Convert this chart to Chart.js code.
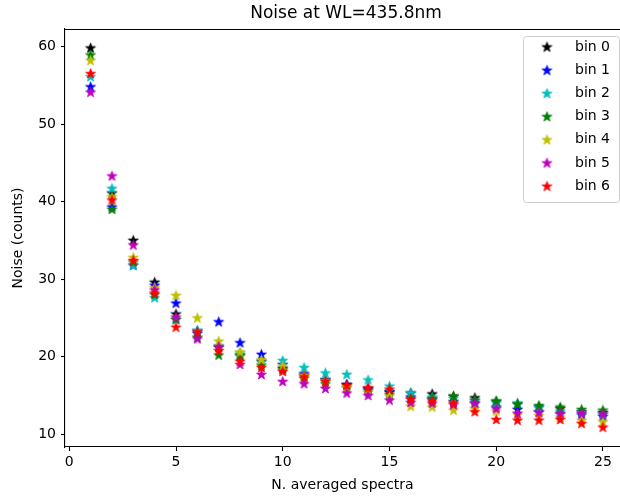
<!DOCTYPE html>
<html>
<head>
<meta charset="utf-8">
<script src="https://cdn.jsdelivr.net/npm/chart.js@4"></script>
<style>
  html, body { margin: 0; padding: 0; background: #fff; }
  #wrap { width: 620px; height: 499px; position: relative; }
</style>
</head>
<body>
<div id="wrap"><canvas id="noiseChart"></canvas></div>
<script>
// data
var nSpectra = [1,2,3,4,5,6,7,8,9,10,11,12,13,14,15,16,17,18,19,20,21,22,23,24,25];
var bin0 = [59.8, 41.1, 35.0, 29.6, 25.5, 23.3, 21.2, 20.2, 19.4, 18.5, 17.6, 17.0, 16.4, 15.8, 15.4, 15.3, 15.2, 14.9, 14.7, 14.2, 13.9, 13.5, 13.3, 12.9, 12.8];
var bin1 = [54.8, 39.3, 31.8, 29.2, 26.9, 23.0, 24.5, 21.8, 20.3, 19.0, 17.8, 17.0, 16.4, 15.9, 15.5, 14.8, 14.5, 14.2, 14.0, 13.5, 13.2, 12.9, 12.6, 12.5, 12.3];
var bin2 = [56.1, 41.7, 31.8, 27.6, 24.8, 23.4, 21.4, 20.5, 19.3, 19.5, 18.6, 17.9, 17.7, 17.0, 16.2, 15.3, 14.8, 14.6, 14.3, 14.0, 14.0, 13.4, 13.0, 12.8, 12.6];
var bin3 = [58.9, 39.0, 32.2, 28.0, 24.8, 22.5, 20.2, 20.1, 18.9, 18.3, 17.2, 16.5, 16.0, 15.6, 15.1, 14.6, 14.6, 14.9, 14.4, 14.3, 13.9, 13.7, 13.5, 13.2, 13.1];
var bin4 = [58.2, 40.6, 32.8, 28.9, 27.9, 25.0, 22.0, 20.6, 19.6, 18.8, 17.6, 16.9, 16.1, 15.4, 14.9, 13.6, 13.5, 13.1, 13.3, 13.0, 12.5, 12.4, 12.2, 11.8, 11.6];
var bin5 = [54.1, 43.3, 34.4, 28.6, 25.1, 22.3, 21.3, 19.0, 17.7, 16.8, 16.5, 15.9, 15.3, 15.0, 14.4, 14.1, 14.0, 13.8, 14.0, 13.3, 12.7, 12.8, 12.7, 12.7, 12.6];
var bin6 = [56.5, 40.2, 32.4, 28.2, 23.8, 23.2, 20.8, 19.4, 18.6, 18.1, 17.4, 16.8, 16.3, 16.0, 15.8, 14.5, 14.3, 14.0, 12.9, 11.9, 11.8, 11.8, 11.9, 11.4, 10.9];

var binLabels = ["bin 0", "bin 1", "bin 2", "bin 3", "bin 4", "bin 5", "bin 6"];
var binColors = ["#000000", "#0000ff", "#00bfbf", "#008000", "#bfbf00", "#bf00bf", "#ff0000"];
var xTicks = [0, 5, 10, 15, 20, 25];
var yTicks = [10, 20, 30, 40, 50, 60];
var titleText = "Noise at WL=435.8nm";

var FONT = "'DejaVu Sans', sans-serif";

// filled five point star like matplotlib's '*' marker
function makeStar(color) {
    var c = document.createElement("canvas");
    c.width = 13; c.height = 13;
    var ctx = c.getContext("2d");
    var cx = 6.5, cy = 6.8, ro = 5.2, ri = 2.1;
    ctx.beginPath();
    for (var k = 0; k < 10; k++) {
        var r = (k % 2 === 0) ? ro : ri;
        var a = -Math.PI / 2 + k * Math.PI / 5;
        var px = cx + r * Math.cos(a), py = cy + r * Math.sin(a);
        if (k === 0) ctx.moveTo(px, py); else ctx.lineTo(px, py);
    }
    ctx.closePath();
    ctx.fillStyle = color;
    ctx.fill();
    ctx.strokeStyle = color;
    ctx.lineWidth = 0.8;
    ctx.stroke();
    return c;
}

var starImgs = binColors.map(makeStar);
var allBins = [bin0, bin1, bin2, bin3, bin4, bin5, bin6];

var datasets = allBins.map(function (vals, i) {
    return {
        label: binLabels[i],
        data: nSpectra.map(function (n, j) { return { x: n, y: vals[j] }; }),
        pointStyle: starImgs[i],
        backgroundColor: binColors[i],
        borderColor: binColors[i],
        showLine: false,
        order: 6 - i
    };
});

// top spine, title and the legend box drawn in the plot
var framePlugin = {
    id: "frame",
    afterDatasetsDraw: function (chart) {
        var ctx = chart.ctx, a = chart.chartArea;
        ctx.save();
        ctx.strokeStyle = "#000";
        ctx.lineWidth = 1.1;
        ctx.beginPath();
        ctx.moveTo(a.left, a.top + 0.5);
        ctx.lineTo(a.right, a.top + 0.5);
        ctx.stroke();
        ctx.restore();
    },
    afterDraw: function (chart) {
        var ctx = chart.ctx;
        ctx.save();
        // matplotlib centres the title on the (cropped) axes box
        ctx.font = "17px " + FONT;
        ctx.fillStyle = "#000";
        ctx.textAlign = "center";
        ctx.textBaseline = "middle";
        ctx.fillText(titleText, 346, 14);

        var bx = 523.5, by = 36.5, bw = 96, bh = 166, rr = 3;
        ctx.beginPath();
        ctx.moveTo(bx + rr, by);
        ctx.lineTo(bx + bw - rr, by);
        ctx.quadraticCurveTo(bx + bw, by, bx + bw, by + rr);
        ctx.lineTo(bx + bw, by + bh - rr);
        ctx.quadraticCurveTo(bx + bw, by + bh, bx + bw - rr, by + bh);
        ctx.lineTo(bx + rr, by + bh);
        ctx.quadraticCurveTo(bx, by + bh, bx, by + bh - rr);
        ctx.lineTo(bx, by + rr);
        ctx.quadraticCurveTo(bx, by, bx + rr, by);
        ctx.closePath();
        ctx.fillStyle = "rgba(255,255,255,0.8)";
        ctx.fill();
        ctx.strokeStyle = "#cccccc";
        ctx.lineWidth = 1;
        ctx.stroke();
        ctx.font = "14px " + FONT;
        ctx.textAlign = "left";
        ctx.textBaseline = "middle";
        ctx.fillStyle = "#000";
        chart.data.datasets.forEach(function (ds, i) {
            var yy = 47 + i * 23.2;
            ctx.drawImage(ds.pointStyle, 547 - 6.5, yy - 6.5);
            ctx.fillText(ds.label, 575, yy);
        });
        ctx.restore();
    }
};

var noiseCanvas = document.getElementById("noiseChart");
var NoiseChart = new Chart(noiseCanvas, {
    type: 'scatter',
    data: { datasets: datasets },
    plugins: [framePlugin],
    options: {
        responsive: true,
        maintainAspectRatio: false,
        animation: false,
        layout: { autoPadding: false, padding: { top: 29, right: 0, left: 0, bottom: 0 } },
        plugins: {
            legend: { display: false },
            tooltip: { enabled: false },
            title: { display: false }
        },
        scales: {
            x: {
                type: 'linear',
                min: -0.2,
                max: 25.8,
                afterBuildTicks: function (s) { s.ticks = xTicks.map(function (v) { return { value: v }; }); },
                afterFit: function (s) { s.height = 52; s.paddingLeft = 0; s.paddingRight = 0; },
                grid: { drawOnChartArea: false, color: "#000", tickLength: 4, tickWidth: 1.1 },
                border: { display: true, color: "#000", width: 1.1 },
                ticks: { color: "#000", font: { family: FONT, size: 14 }, padding: 3, maxRotation: 0 },
                title: {
                    display: true,
                    text: "N. averaged spectra",
                    color: "#000",
                    font: { family: FONT, size: 14 },
                    padding: { top: 0, bottom: 5 }
                }
            },
            y: {
                type: 'linear',
                min: 8.35,
                max: 62.25,
                afterBuildTicks: function (s) { s.ticks = yTicks.map(function (v) { return { value: v }; }); },
                afterFit: function (s) { s.width = 65; s.paddingTop = 0; s.paddingBottom = 0; },
                grid: { drawOnChartArea: false, color: "#000", tickLength: 4, tickWidth: 1.1 },
                border: { display: true, color: "#000", width: 1.1 },
                ticks: { color: "#000", font: { family: FONT, size: 14 }, padding: 5 },
                title: {
                    display: true,
                    text: "Noise (counts)",
                    color: "#000",
                    font: { family: FONT, size: 14 },
                    padding: { top: 10, bottom: 0 }
                }
            }
        }
    }
});
</script>
</body>
</html>
